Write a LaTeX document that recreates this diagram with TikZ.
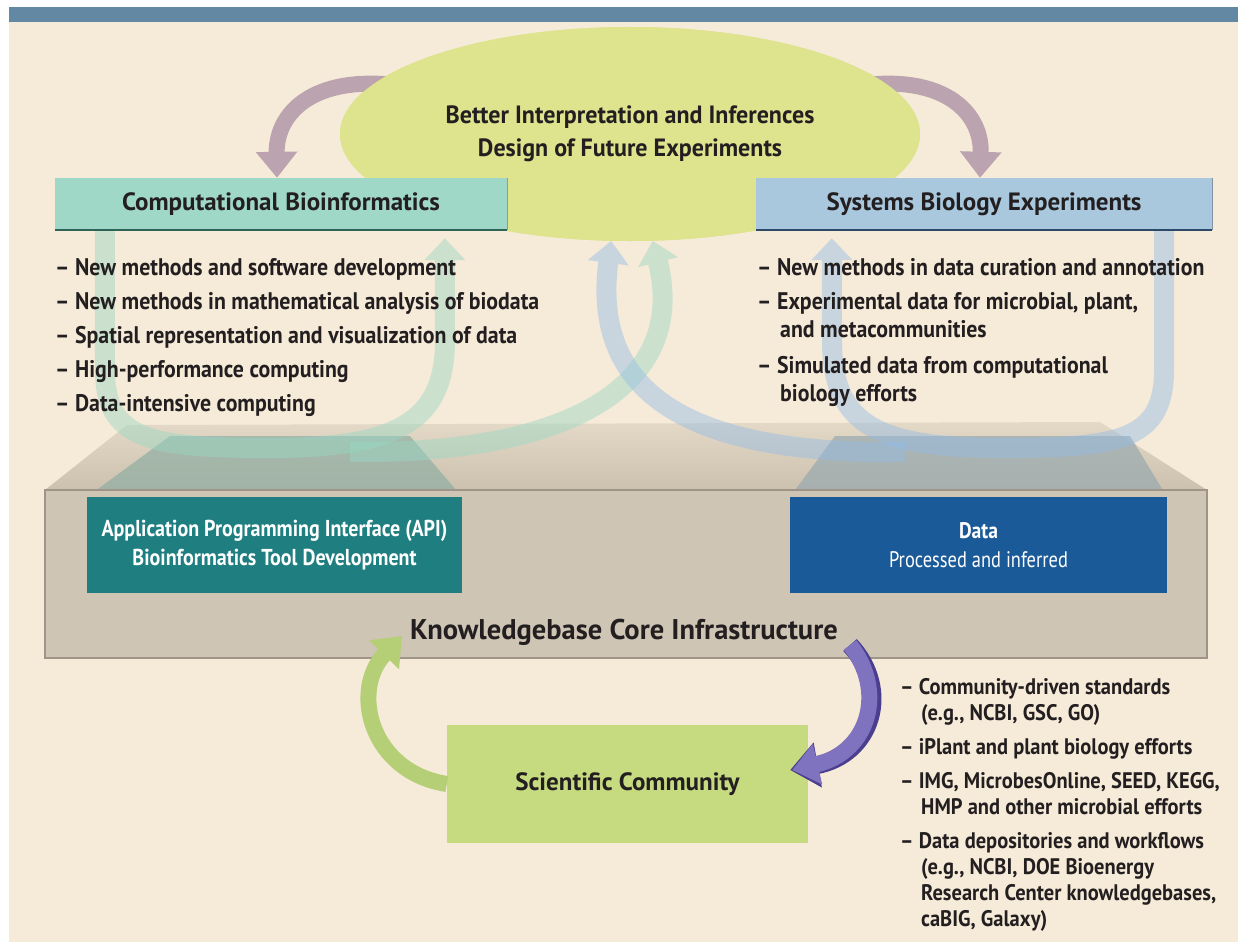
\documentclass[tikz,border=0pt]{standalone}
\usepackage{fontspec}
\setmainfont{PT Sans}
\newfontfamily\cond{PT Sans}[FakeStretch=0.91]
\newfontfamily\condb{PT Sans}[FakeStretch=0.87]
\newfontfamily\condc{PT Sans}[FakeStretch=0.96]
\newfontfamily\condd{PT Sans}[FakeStretch=0.82]
\usetikzlibrary{arrows.meta,shapes.geometric,calc}
\definecolor{bg}{HTML}{F6EAD8}
\definecolor{barc}{HTML}{6388A3}
\definecolor{ellc}{HTML}{DEE38E}
\definecolor{cbfill}{HTML}{A0D8C7}
\definecolor{cbline}{HTML}{2E6358}
\definecolor{sbfill}{HTML}{A9C8DE}
\definecolor{sbline}{HTML}{2C4A68}
\definecolor{platf}{HTML}{CEC5B5}
\definecolor{platl}{HTML}{9E9588}
\definecolor{topa}{HTML}{E4D9C7}
\definecolor{topb}{HTML}{CCC1AF}
\definecolor{beamA}{HTML}{8FAEA2}
\definecolor{beamB}{HTML}{97A9AE}
\definecolor{apic}{HTML}{1F7E80}
\definecolor{datac}{HTML}{1A5A99}
\definecolor{scc}{HTML}{C6DA7F}
\definecolor{greena}{HTML}{B5CF76}
\definecolor{purpa}{HTML}{7F72BE}
\definecolor{purpd}{HTML}{4A3E8E}
\definecolor{mauve}{HTML}{BBA4B0}
\definecolor{tealt}{HTML}{98D8C4}
\definecolor{bluet}{HTML}{93BCE6}
\definecolor{txt}{HTML}{231F20}
\tikzset{
  bigarrow/.style={line width=16pt,-{Triangle[width=40pt,length=26pt]}},
  band/.style={line width=20pt,-{Triangle[width=40pt,length=22pt]}},
  headbox/.style={rectangle,inner sep=0pt,font=\fontsize{25}{28}\selectfont\bfseries,text=txt},
  item/.style={anchor=base west,inner sep=0pt,font=\cond\fontsize{24}{28}\selectfont\bfseries,text=txt},
  itemr/.style={anchor=base west,inner sep=0pt,font=\cond\fontsize{22.5}{26}\selectfont\bfseries,text=txt},
  ellstyle/.style={ellipse,fill=ellc,minimum width=580pt,minimum height=214pt,inner sep=0pt,
      font=\condc\fontsize{25}{33}\selectfont\bfseries,text=txt,align=center},
}
\begin{document}
\begin{tikzpicture}[x=1pt,y=-1pt]
\useasboundingbox (0,0) rectangle (1238,942);
\fill[white] (0,0) rectangle (1238,942);
\fill[bg] (9,22) rectangle (1238,942);
\fill[barc] (9,7) rectangle (1238,22);

% platform top face
\shade[top color=topa,bottom color=topb] (45,490) -- (127,425) -- (1100,422) -- (1207,490) -- cycle;
% beams
\fill[beamA,opacity=0.7] (87,497) -- (170,436) -- (410,436) -- (462,497) -- cycle;
\fill[beamB,opacity=0.7] (790,497) -- (835,436) -- (1130,436) -- (1167,497) -- cycle;

% boxes top (named first)
\node[headbox,fill=cbfill,minimum width=452pt,minimum height=52pt] (cb) at (281,204) {Computational Bioinformatics};
\node[headbox,fill=sbfill,minimum width=456pt,minimum height=52pt] (sb) at (984,204) {Systems Biology Experiments};

% ellipse (named), arrows leave from beneath it
\node[ellstyle] (ell) at (630,134) {};
\draw[bigarrow,mauve] ($(ell.168)!0.12!(ell.center)$) .. controls (318,72) and (276,110) .. ([xshift=-4pt]cb.north);
\draw[bigarrow,mauve] ($(ell.12)!0.12!(ell.center)$) .. controls (940,72) and (982,110) .. ([xshift=-4pt]sb.north);
\node[ellstyle] at (ell) {Better Interpretation and Inferences\\Design of Future Experiments};

% translucent bands
\coordinate (tb0) at (350,452);
\coordinate (bc0) at (905,452);
\begin{scope}[transparency group,opacity=0.45]
\draw[band,tealt] ($(cb.south west)+(50,0)$) -- (105,370) .. controls (105,440) and (150,448) .. (270,448)
   .. controls (400,448) and (445,420) .. (445,340) -- ($(cb.south west)+(390,8)$);
\end{scope}
\begin{scope}[transparency group,opacity=0.45]
\draw[band,tealt] (tb0) .. controls (560,455) and (690,390) .. (ell.-78);
\end{scope}
\begin{scope}[transparency group,opacity=0.45]
\draw[band,bluet] (bc0) .. controls (700,455) and (590,400) .. (ell.-100);
\end{scope}
\begin{scope}[transparency group,opacity=0.45]
\draw[band,bluet] ($(sb.south east)+(-48,0)$) -- (1164,370) .. controls (1164,440) and (1120,448) .. (1000,448)
   .. controls (870,448) and (832,420) .. (832,340) -- ($(sb.south west)+(76,8)$);
\end{scope}

% redraw boxes on top of bands and ellipse
\node[headbox,fill=cbfill,minimum width=452pt,minimum height=52pt] at (cb) {Computational Bioinformatics};
\draw[cbline,line width=2.5pt] (cb.south west) -- (cb.south east);
\draw[cbline!60,line width=0.8pt] (cb.north east) -- (cb.south east);
\node[headbox,fill=sbfill,minimum width=456pt,minimum height=52pt] at (sb) {Systems Biology Experiments};
\draw[sbline,line width=2.5pt] (sb.south west) -- (sb.south east);
\draw[sbline!60,line width=0.8pt] (sb.north east) -- (sb.south east);

% left list
\node[item] (l1) at (55,275) {– New methods and software development};
\node[item] (l2) at (55,309) {– New methods in mathematical analysis of biodata};
\node[item] (l3) at (55,343) {– Spatial representation and visualization of data};
\node[item] (l4) at (55,377) {– High-performance computing};
\node[item] (l5) at (55,411) {– Data-intensive computing};
% right list
\node[item] (r1) at (757,275) {– New methods in data curation and annotation};
\node[item] (r2) at (757,309) {– Experimental data for microbial, plant,};
\node[item] (r2b) at (780,337) {and metacommunities};
\node[item] (r3) at (757,373) {– Simulated data from computational};
\node[item] (r3b) at (780,401) {biology efforts};

% platform front face
\node[rectangle,fill=platf,draw=platl,line width=2pt,minimum width=1162pt,minimum height=168pt,inner sep=0pt] (plat) at (626,574) {};
\node[rectangle,fill=apic,minimum width=375pt,minimum height=96pt,inner sep=0pt,text=white,
      font=\condb\fontsize{23}{29}\selectfont\bfseries,align=center] (api) at (274.5,545)
      {Application Programming Interface (API)\\Bioinformatics Tool Development};
\node[rectangle,fill=datac,minimum width=377pt,minimum height=96pt,inner sep=0pt,text=white,
      font=\condd\fontsize{22.5}{29}\selectfont,align=center] (data) at (978.5,545)
      {{\condb\bfseries Data}\\Processed and inferred};
\node[inner sep=0pt,font=\fontsize{28.5}{30}\selectfont\bfseries,text=txt] (kb) at (624,632) {Knowledgebase Core Infrastructure};

% scientific community
\node[headbox,fill=scc,minimum width=361pt,minimum height=118pt] (sc) at (627.5,784) {Scientific Community};

% green and purple arrows
\coordinate (gtip) at (402,636);
\coordinate (pstart) at (850,645);
\draw[bigarrow,greena] (sc.west) .. controls (370,772) and (350,690) .. (gtip);
\draw[line width=18pt,purpd,-{Triangle[width=44pt,length=28pt]}] (pstart) .. controls (892,690) and (872,755) .. ([xshift=-18pt,yshift=14pt]sc.east);
\draw[bigarrow,purpa] (pstart) .. controls (886,690) and (870,752) .. ([xshift=-16pt,yshift=14pt]sc.east);

% bottom right list
\node[itemr] (b1) at (900,694) {– Community-driven standards};
\node[itemr] (b1b) at (921,720) {(e.g., NCBI, GSC, GO)};
\node[itemr] (b2) at (900,754) {– iPlant and plant biology efforts};
\node[itemr] (b3) at (900,788) {– IMG, MicrobesOnline, SEED, KEGG,};
\node[itemr] (b3b) at (921,814) {HMP and other microbial efforts};
\node[itemr] (b4) at (900,848) {– Data depositories and workflows};
\node[itemr] (b4b) at (921,874) {(e.g., NCBI, DOE Bioenergy};
\node[itemr] (b4c) at (921,900) {Research Center knowledgebases,};
\node[itemr] (b4d) at (921,926) {caBIG, Galaxy)};
\end{tikzpicture}
\end{document}
